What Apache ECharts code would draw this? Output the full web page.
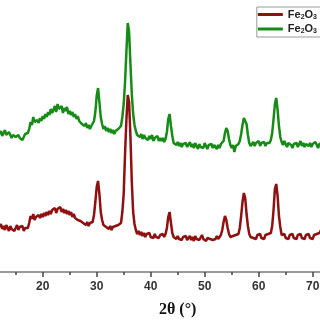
<!DOCTYPE html>
<html>
<head>
<meta charset="utf-8">
<script src="https://cdn.jsdelivr.net/npm/echarts@6/dist/echarts.min.js"></script>
<style>
  html, body { margin: 0; padding: 0; background: #fff; }
  #chart { width: 320px; height: 320px; }
</style>
</head>
<body>
<div id="chart"></div>
<script>
// 2θ from 12 to 72 in 0.25 steps, intensity in arbitrary units
let thetaStart = 12;
let thetaStep = 0.25;
let seriesNames = ["Fe2O3 a", "Fe2O3 b"];

let greenCounts = [
  138,141,136,139,142,137,135,140,138,134,137,139,135,133,137,134,136,132,135,138,
  136,139,143,150,147,155,150,148,152,149,154,151,156,153,158,155,160,157,163,159,
  162,166,160,168,163,161,166,159,164,161,165,158,161,157,160,155,158,153,156,151,
  153,148,150,146,149,144,147,143,146,144,151,160,176,184,170,155,148,143,146,141,
  144,140,143,139,142,138,141,139,143,141,146,155,168,190,220,249,240,208,178,158,
  147,141,137,139,135,138,133,137,134,136,132,136,133,137,131,134,132,136,131,134,
  131,134,130,133,140,153,158,146,136,129,131,127,130,126,129,125,128,126,129,125,
  127,130,125,128,124,129,126,123,128,125,127,124,129,126,123,127,125,128,124,127,
  126,123,127,124,128,126,131,139,144,141,133,127,124,127,120,126,125,128,131,138,
  147,154,156,148,137,129,126,128,130,126,129,127,131,126,129,127,130,126,129,128,
  129,132,139,153,168,174,162,146,135,130,127,131,128,125,129,131,127,124,128,126,
  129,125,128,131,126,129,125,128,130,126,129,125,128,126,130,127,124,128,126,129,
  127
];

let redCounts = [
  45,48,43,46,42,47,44,41,46,43,45,41,44,47,42,45,43,46,41,44,
  46,44,49,56,53,58,52,55,53,57,54,58,55,59,56,60,57,61,58,62,
  60,64,59,63,61,65,60,63,59,62,58,61,57,60,55,58,54,56,52,54,
  51,53,49,51,47,50,46,49,47,50,57,70,85,91,78,60,52,47,49,45,
  47,43,46,42,45,43,46,44,47,45,49,60,78,118,152,177,170,135,90,60,
  48,42,38,41,37,40,36,39,35,38,36,39,35,37,34,38,35,37,34,37,
  35,38,35,38,44,55,60,49,39,35,37,33,36,33,35,32,35,33,36,32,
  34,36,32,35,31,36,33,35,32,34,37,33,35,31,34,36,33,35,32,34,
  33,36,33,35,37,42,50,56,52,44,38,35,33,36,34,37,35,38,44,56,
  70,79,74,58,46,38,35,37,34,36,33,37,35,38,34,36,33,37,35,38,
  36,39,46,62,83,88,76,56,45,37,35,38,34,36,33,37,35,38,34,36,
  33,37,35,38,34,36,33,37,35,38,34,36,33,37,35,38,36,39,41,44,
  47
];

function toPairs(values) {
  return values.map((v, i) => [thetaStart + i * thetaStep, v]);
}

var myChart = echarts.init(document.getElementById("chart"));
let option = {
  animation: false,
  grid: {
    left: -11.3,
    right: -46.7,
    top: 0,
    bottom: 48,
    outerBoundsMode: "none"
  },
  legend: {
    data: [seriesNames[0], seriesNames[1]],
    orient: "vertical",
    right: -11,
    top: 7,
    padding: [2, 14, 2, 1],
    itemGap: 3,
    itemWidth: 25,
    itemHeight: 3,
    icon: "rect",
    borderColor: "#9a9a9a",
    borderWidth: 1,
    formatter: function() {
      return "{n|Fe}{s|2}{n|O}{s|3}";
    },
    textStyle: {
      color: "#222",
      rich: {
        n: { fontSize: 11, fontWeight: "bold", fontFamily: "Arial", lineHeight: 12 },
        s: { fontSize: 7, fontWeight: "bold", fontFamily: "Arial", padding: [5, 0, 0, 0] }
      }
    }
  },
  xAxis: {
    type: "value",
    min: 10,
    max: 80,
    interval: 10,
    name: "2θ (°)",
    nameLocation: "middle",
    nameGap: 30,
    nameTextStyle: {
      fontFamily: "Liberation Serif",
      fontWeight: "bold",
      fontSize: 16,
      color: "#111"
    },
    axisLine: {
      lineStyle: { color: "#777", width: 1.5 }
    },
    axisTick: {
      length: 5,
      lineStyle: { color: "#444", width: 1.5 }
    },
    minorTick: {
      show: true,
      splitNumber: 2,
      length: 3,
      lineStyle: { color: "#444", width: 1.5 }
    },
    axisLabel: {
      margin: 9,
      color: "#333",
      fontSize: 12,
      fontWeight: "bold",
      fontFamily: "Arial"
    },
    splitLine: { show: false }
  },
  yAxis: {
    type: "value",
    min: 0,
    max: 272,
    show: false
  },
  series: [
    {
      name: seriesNames[1],
      type: "line",
      data: toPairs(greenCounts),
      showSymbol: false,
      symbol: "none",
      color: "#168c16",
      lineStyle: { width: 2.5, color: "#168c16" }
    },
    {
      name: seriesNames[0],
      type: "line",
      data: toPairs(redCounts),
      showSymbol: false,
      symbol: "none",
      color: "#8f1010",
      lineStyle: { width: 2.5, color: "#8f1010" }
    }
  ]
};
myChart.setOption(option);
</script>
</body>
</html>
